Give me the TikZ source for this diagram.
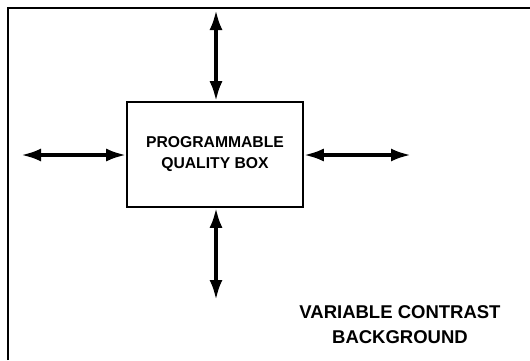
\documentclass[tikz,border=0pt]{standalone}
\usepackage{fontspec}
\setmainfont{Liberation Sans}
\usetikzlibrary{arrows.meta}

\begin{document}
\begin{tikzpicture}[x=1pt,y=-1pt,
  qbox/.style={draw,line width=1.6pt,minimum width=176pt,minimum height=105pt,align=center,
    font=\bfseries\fontsize{15.7}{21}\selectfont},
  dblarrow/.style={line width=3.6pt,{Latex[length=20pt,width=13pt]}-{Latex[length=20pt,width=13pt]}}]
\useasboundingbox (0,0) rectangle (530,360);
\draw [line width=2.8pt] (8,360) |- (530,8);
\node [qbox] (q) at (215,154.5) {PROGRAMMABLE\\QUALITY BOX};
\coordinate (n) at (216,10);
\coordinate (s) at (216,300);
\coordinate (w) at (21,155);
\coordinate (e) at (411,155);
\draw [dblarrow] (n) -- (q.north -| n);
\draw [dblarrow] (q.south -| s) -- (s);
\draw [dblarrow] (w) -- (q.west |- w);
\draw [dblarrow] (q.east |- e) -- (e);
\node [align=center,font=\bfseries\fontsize{18.5}{25}\selectfont,inner sep=0pt] (bg) at (400,324.5)
  {VARIABLE CONTRAST\\BACKGROUND};
\end{tikzpicture}
\end{document}
